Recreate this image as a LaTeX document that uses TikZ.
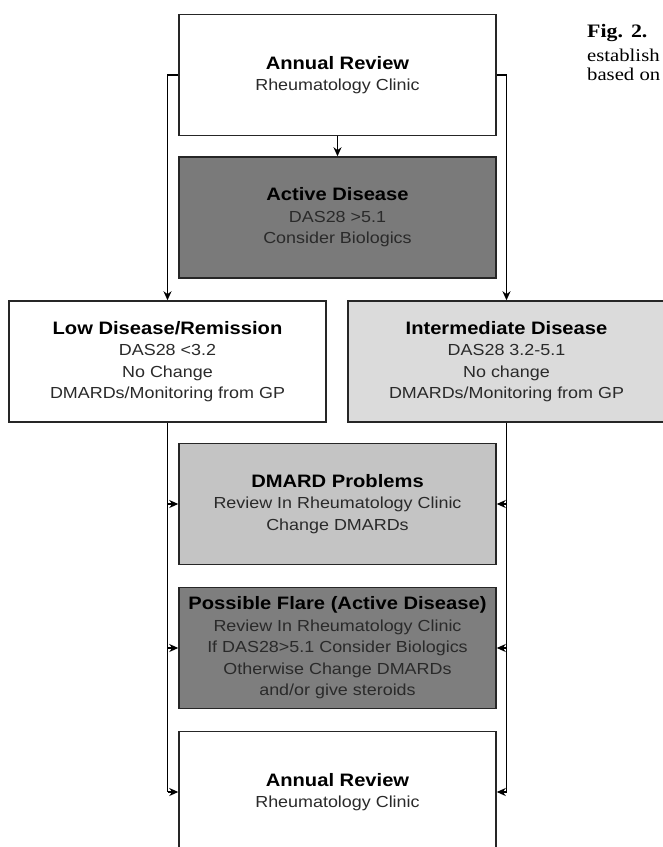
\documentclass[tikz,border=0pt]{standalone}
\usepackage{fontspec}
\setsansfont{Liberation Sans}[FakeStretch=1.12]
\newfontfamily\capfont{Liberation Serif}[FakeStretch=1.15]
\usepackage{tikz}
\usetikzlibrary{positioning,arrows.meta}
\definecolor{ActiveGray}{HTML}{7A7A7A}
\definecolor{DmardGray}{HTML}{C4C4C4}
\definecolor{InterGray}{HTML}{DBDBDB}
\definecolor{FlareGray}{HTML}{7E7E7E}
\definecolor{SubText}{HTML}{2A2A2A}
\newcommand{\boxtitle}[1]{{\fontsize{18}{21.5}\selectfont\bfseries\color{black}#1}}

\begin{document}
\begin{tikzpicture}[x=1pt, y=-1pt,
    stepbox/.style={draw=black!85, line width=1.5pt, minimum width=317pt, minimum height=121pt,
      inner sep=0pt, align=center, text=SubText, font=\sffamily\fontsize{16}{21.5}\selectfont},
    link/.style={line width=1.7pt, black},
    arr/.style={link, ->, >={Stealth[length=9pt,width=8pt]}}]
    \useasboundingbox (0,0) rectangle (663,847);
    \clip (0,0) rectangle (663,847);
    \node[stepbox, fill=white] (annual) at (337.5,75) {\boxtitle{Annual Review}\\Rheumatology Clinic};
    \node[stepbox, fill=ActiveGray] (active) at (337.5,217.5) {\boxtitle{Active Disease}\\DAS28 >5.1\\Consider Biologics};
    \node[stepbox, fill=white] (low) at (167.5,361.5) {\boxtitle{Low Disease/Remission}\\DAS28 <3.2\\No Change\\DMARDs/Monitoring from GP};
    \node[stepbox, fill=InterGray] (inter) at (506.5,361.5) {\boxtitle{Intermediate Disease}\\DAS28 3.2-5.1\\No change\\DMARDs/Monitoring from GP};
    \node[stepbox, fill=DmardGray] (dmard) at (337.5,504) {\boxtitle{DMARD Problems}\\Review In Rheumatology Clinic\\Change DMARDs};
    \node[stepbox, fill=FlareGray] (flare) at (337.5,648) {\boxtitle{Possible Flare (Active Disease)}\\Review In Rheumatology Clinic\\If DAS28>5.1 Consider Biologics\\Otherwise Change DMARDs\\and/or give steroids};
    \node[stepbox, fill=white] (annualB) at (337.5,792) {\boxtitle{Annual Review}\\Rheumatology Clinic};
    \node[anchor=base west, inner sep=0pt, font=\capfont\fontsize{19}{22}\selectfont\bfseries] (capA) at (587,37) {Fig.\hspace{8pt}2.};
    \node[anchor=base west, inner sep=0pt, font=\capfont\fontsize{18}{21}\selectfont] (capB) at (587,61) {establish};
    \node[anchor=base west, inner sep=0pt, font=\capfont\fontsize{18}{21}\selectfont] (capC) at (587,80) {based on};
    \draw[arr] (annual) -- (active);
    \draw[arr] (annual.west) -| (low);
    \draw[arr] (annual.east) -| (inter);
    \draw[link] (low.south) -- (low.south |- annualB.west);
    \draw[link] (inter.south) -- (inter.south |- annualB.east);
    \draw[arr] (low.south |- dmard.west) -- (dmard.west);
    \draw[arr] (low.south |- flare.west) -- (flare.west);
    \draw[arr] (low.south |- annualB.west) -- (annualB.west);
    \draw[arr] (inter.south |- dmard.east) -- (dmard.east);
    \draw[arr] (inter.south |- flare.east) -- (flare.east);
    \draw[arr] (inter.south |- annualB.east) -- (annualB.east);
  \end{tikzpicture}
\end{document}
